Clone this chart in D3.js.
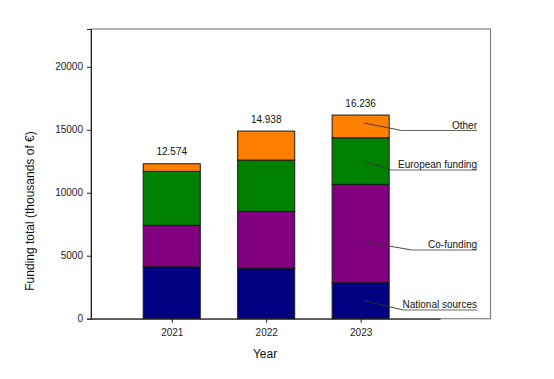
<!DOCTYPE html>
<html><head><meta charset="utf-8">
<script src="https://cdn.jsdelivr.net/npm/d3@7"></script>
<style>body{margin:0;background:#fff}svg{display:block}text{font-family:"Liberation Sans",Arial,sans-serif}</style>
</head><body><svg id="c" width="554" height="379"></svg>
<script>
const years = [2021, 2022, 2023];
const nationalSources = [4127, 4000, 2857];
const coFunding = [3286, 4524, 7810];
const europeanFunding = [4286, 4071, 3698];
const other = [604, 2302, 1802];
const totalLabels = ["12.574", "14.938", "16.236"];
const seriesNames = ["National sources", "Co-funding", "European funding", "Other"];
const yTicks = [0, 5000, 10000, 15000, 20000];

const colors = ["#000080", "#800080", "#008000", "#FF8000"];
const svg = d3.select("#c");
const L = 91, R = 490.5, T = 29, B = 318.7;
const x = d3.scaleLinear().domain([2020.145, 2024.375]).range([L, R]);
const y = d3.scaleLinear().domain([0, 23000]).range([B, T]);
const bw = x(2021.604) - x(2021);

const rows = years.map((yr, i) => ({year: yr, "National sources": nationalSources[i], "Co-funding": coFunding[i], "European funding": europeanFunding[i], "Other": other[i]}));
const stack = d3.stack().keys(seriesNames)(rows);

// frame
svg.append("rect").attr("x", L).attr("y", T).attr("width", R - L).attr("height", B - T)
  .attr("fill", "none").attr("stroke", "#808080").attr("stroke-width", 1.2);

// bars
stack.forEach((s, k) => {
  svg.append("g").selectAll("rect").data(s).join("rect")
    .attr("x", d => x(d.data.year) - bw / 2)
    .attr("y", d => y(d[1]))
    .attr("width", bw)
    .attr("height", d => y(d[0]) - y(d[1]))
    .attr("fill", colors[k]).attr("stroke", "#1a1a1a").attr("stroke-width", 1);
});

// totals
const tops = stack[stack.length - 1];
svg.append("g").selectAll("text").data(tops).join("text")
  .attr("x", d => x(d.data.year)).attr("y", d => y(d[1]) - 8.5)
  .attr("text-anchor", "middle").attr("font-size", 10).attr("fill", "#111")
  .text((d, i) => totalLabels[i]);

// axes
const ya = svg.append("g").attr("transform", `translate(${L},0)`)
  .call(d3.axisLeft(y).tickValues(yTicks).tickSize(4).tickPadding(4).tickFormat(d3.format("d")));
ya.select(".domain").attr("stroke", "#222");
ya.selectAll("text").attr("font-size", 10).attr("fill", "#222").attr("font-family", '"Liberation Sans",Arial,sans-serif');
ya.selectAll(".tick line").attr("stroke", "#222");

const xa = svg.append("g").attr("transform", `translate(0,${B})`)
  .call(d3.axisBottom(x).tickValues(years).tickSize(4).tickPadding(6).tickFormat(d3.format("d")));
xa.select(".domain").attr("d", `M${L},0.5H${x(2023.845)}`).attr("stroke", "#222");
xa.selectAll("text").attr("font-size", 10).attr("fill", "#222").attr("font-family", '"Liberation Sans",Arial,sans-serif');
xa.selectAll(".tick line").attr("stroke", "#222");

// axis titles
svg.append("text").attr("x", 265).attr("y", 358).attr("text-anchor", "middle")
  .attr("font-size", 12).attr("fill", "#111").text("Year");
svg.append("text").attr("transform", "translate(34,211) rotate(-90)").attr("text-anchor", "middle")
  .attr("font-size", 12).attr("fill", "#111").text("Funding total (thousands of €)");

// annotations for last bar
const last = years.length - 1;
const ann = [
  {k: 3, ty: 130.5, ux: 401.7, dy: -3.5},
  {k: 2, ty: 170, ux: 391.7, dy: 0},
  {k: 1, ty: 250, ux: 411.7, dy: 8},
  {k: 0, ty: 310, ux: 403.3, dy: 0}
];
const ag = svg.append("g");
ann.forEach(a => {
  const d = stack[a.k][last];
  const ax = x(years[last]) + 3, ay = (y(d[0]) + y(d[1])) / 2 + a.dy;
  ag.append("path").attr("d", `M${ax},${ay}L${a.ux},${a.ty}`)
    .attr("fill", "none").attr("stroke", "#333").attr("stroke-width", 0.9);
  ag.append("path").attr("d", `M${a.ux},${a.ty}H477`)
    .attr("fill", "none").attr("stroke", "#666").attr("stroke-width", 1);
  ag.append("text").attr("x", 477).attr("y", a.ty - 2).attr("text-anchor", "end")
    .attr("font-size", 10).attr("fill", "#111").text(seriesNames[a.k]);
});
</script></body></html>
